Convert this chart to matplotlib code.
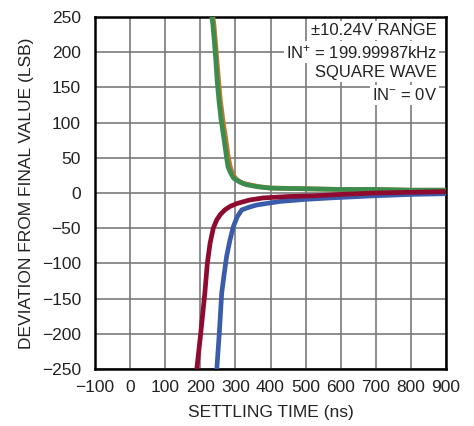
import matplotlib
matplotlib.use("Agg")
import matplotlib.pyplot as plt

plt.rcParams['font.family'] = ['Liberation Sans', 'DejaVu Sans']
plt.rcParams['mathtext.fontset'] = 'custom'
plt.rcParams['mathtext.rm'] = 'Liberation Sans'
plt.rcParams['mathtext.it'] = 'Liberation Sans'
plt.rcParams['mathtext.bf'] = 'Liberation Sans'

# data (time in ns, deviation in LSB)
orange_x = [236, 239, 243, 247, 252, 257, 264, 270, 275, 280, 285, 290, 296, 302, 310, 320, 337, 367, 400, 500, 600, 700, 800, 900]
orange_y = [250, 238, 215, 190, 160, 132, 105, 85, 68, 50, 38, 30, 24, 20, 17, 14, 12, 9, 7, 6, 5, 5, 4, 4]
green_x = [233, 236, 240, 244, 248, 253, 259, 265, 270, 275, 279, 285, 290, 295, 304, 315, 330, 361, 400, 500, 600, 700, 800, 900]
green_y = [250, 238, 215, 190, 160, 132, 105, 85, 68, 50, 37, 30, 25, 21, 18, 15, 12, 9, 7, 6, 5, 5, 4, 4]
blue_x = [247, 254, 261, 268, 275, 284, 294, 305, 318, 340, 361, 400, 427, 500, 570, 692, 800, 900]
blue_y = [-250, -200, -142, -115, -90, -68, -48, -34, -24, -20, -17, -14, -12, -9, -7, -4, -2, -1]
red_x = [190, 200, 213, 220, 228, 237, 247, 258, 270, 285, 304, 340, 379, 450, 522, 600, 700, 800, 900]
red_y = [-250, -205, -142, -100, -71, -50, -38, -30, -24, -19, -15, -10, -7, -5, -4, -2, 0, 1, 2]

xticks = [-100, 0, 100, 200, 300, 400, 500, 600, 700, 800, 900]
yticks = [-250, -200, -150, -100, -50, 0, 50, 100, 150, 200, 250]
notes = ["±10.24V RANGE", "IN$^{+}$ = 199.99987kHz", "SQUARE WAVE", "IN$^{−}$ = 0V"]

fig = plt.figure(figsize=(4.74, 4.26), dpi=100)
ax = fig.add_axes([95/474, (426-369)/426, 351/474, 352/426])

lw = 3.4
ax.plot(orange_x, orange_y, color='#c8762e', lw=lw, zorder=3)
ax.plot(green_x, green_y, color='#3c8c4e', lw=lw, zorder=4)
ax.plot(blue_x, blue_y, color='#3b5cab', lw=lw, zorder=5)
ax.plot(red_x, red_y, color='#8e0a2e', lw=lw, zorder=6)

ax.set_xlim(-100, 900)
ax.set_ylim(-250, 250)
ax.set_xticks(xticks)
ax.set_yticks(yticks)
ax.grid(True, color='#7a7a7a', lw=1.2)
ax.set_axisbelow(True)
ax.tick_params(length=0, labelsize=12.5, colors='#222222')
ax.tick_params(axis='x', pad=8)
ax.tick_params(axis='y', pad=10)
for s in ax.spines.values():
    s.set_linewidth(1.8)
    s.set_color('black')
ax.set_xlabel("SETTLING TIME (ns)", fontsize=12.5, color='#222222', labelpad=7)
ax.set_ylabel("DEVIATION FROM FINAL VALUE (LSB)", fontsize=12.5, color='#222222', labelpad=6)

ys = [0.963, 0.901, 0.841, 0.778]
for t, yy in zip(notes, ys):
    ax.text(0.974, yy, t, transform=ax.transAxes, ha='right', va='center',
            fontsize=12, color='#222222', zorder=10,
            bbox=dict(facecolor='white', edgecolor='none', pad=1.5))

fig.savefig("out.png", dpi=100)
